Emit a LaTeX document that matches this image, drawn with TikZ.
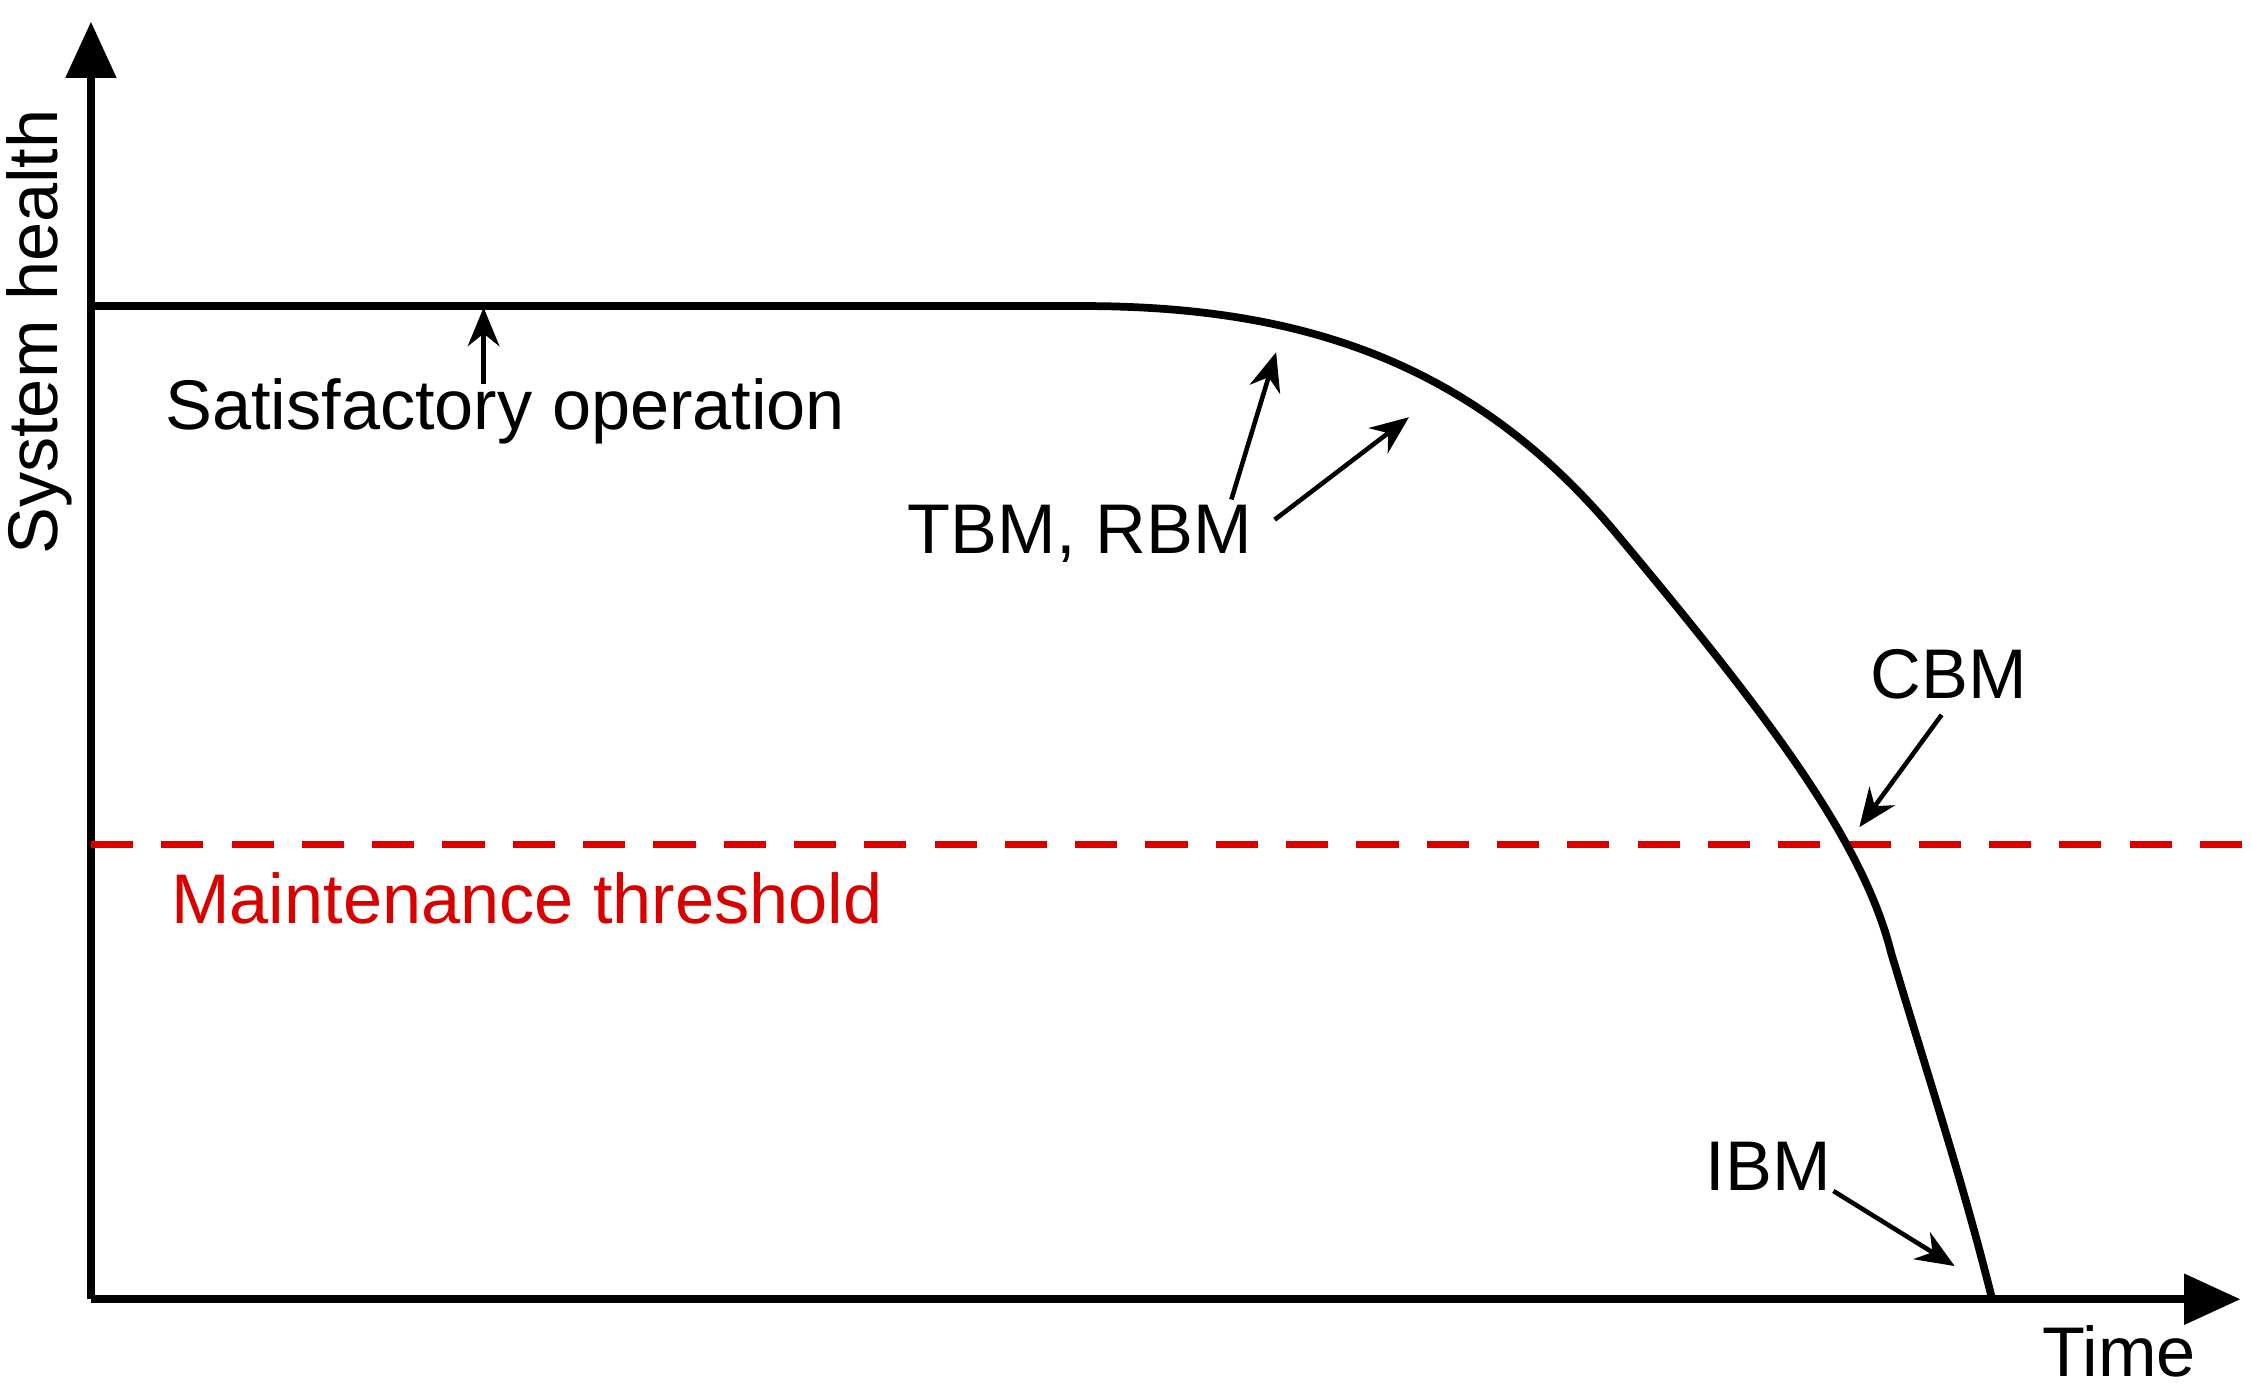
\documentclass[tikz,border=0pt]{standalone}
\usepackage{fontspec}
\setmainfont{Liberation Sans}
\usetikzlibrary{arrows.meta}
\tikzset{
  axis/.style = {line width=2.2pt, -{Triangle[length=16pt,width=14pt]}},
  health/.style = {line width=2.2pt},
  pointer/.style = {line width=1.3pt, -{Stealth[length=11pt,width=9pt]}},
  lbl/.style = {font=\fontsize{20}{24}\selectfont, inner sep=1pt},
  threshold/.style = {red!85!black, line width=1.8pt, dash pattern=on 12pt off 8pt},
}
\begin{document}
\begin{tikzpicture}[x=0.014436cm, y=-0.014436cm]
\useasboundingbox (0,0) rectangle (1560,966);
% axes
\coordinate (origin) at (63,900);
\coordinate (ytop) at (63,15);
\coordinate (xend) at (1552,900);
\draw [axis] (origin) -- (ytop);
\draw [axis] (origin) -- (xend);
\node (ylabel) [lbl, rotate=90] at (27,230) {System health};
\node (xlabel) [lbl] at (1468,936) {Time};
% threshold
\coordinate (thl) at (63,585);
\coordinate (thr) at (1558,585);
\draw [threshold] (thl) -- (thr);
\node (thlabel) [lbl, text=red!85!black] at (365,622) {Maintenance threshold};
% health curve
\draw [health] (63,212) -- (750,212)
  .. controls (900,212) and (1020,250) .. (1120,370)
  .. controls (1220,490) and (1290,580) .. (1310,660)
  .. controls (1340,760) and (1360,820) .. (1380,900);
% labels and pointers
\node (satis) [lbl] at (350,285) {Satisfactory operation};
\coordinate (satisp) at (335,213);
\draw [pointer] (335,266) -- (satisp);
\node (tbm) [lbl] at (748,370) {TBM, RBM};
\coordinate (tbmp1) at (884,244);
\coordinate (tbmp2) at (976,289);
\draw [pointer] (853,346) -- (tbmp1);
\draw [pointer] (883,360) -- (tbmp2);
\node (cbm) [lbl] at (1350,467) {CBM};
\coordinate (cbmp) at (1288,573);
\draw [pointer] (cbm.south) ++(-5,8) -- (cbmp);
\node (ibm) [lbl] at (1225,808) {IBM};
\coordinate (ibmp) at (1354,877);
\draw [pointer] (1270,825) -- (ibmp);
\end{tikzpicture}
\end{document}
